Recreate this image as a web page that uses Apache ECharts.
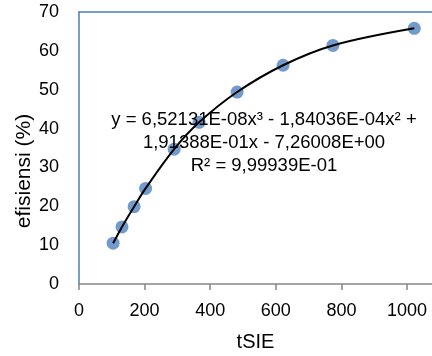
<!DOCTYPE html>
<html>
<head>
<meta charset="utf-8">
<script src="https://cdn.jsdelivr.net/npm/echarts@6/dist/echarts.min.js"></script>
<style>
  html, body { margin: 0; padding: 0; background: #fff; }
  #chart { width: 432px; height: 356px; }
</style>
</head>
<body>
<div id="chart"></div>
<script>
// tSIE vs efisiensi
const tsie = [104, 131, 168, 203, 290, 366, 482, 622, 774, 1022]
const efisiensi = [10.5, 14.7, 19.9, 24.6, 34.7, 41.6, 49.4, 56.3, 61.4, 65.8]
const trendLabel = [
  'y = 6,52131E-08x³ - 1,84036E-04x² +',
  '1,91388E-01x - 7,26008E+00',
  'R² = 9,99939E-01'
]

const points = tsie.map((x, i) => [x, efisiensi[i]])
const font = 'Liberation Sans'

const chart = echarts.init(document.getElementById('chart'))
chart.setOption({
  animation: false,
  textStyle: { fontFamily: font },
  grid: { left: 79, top: 12, right: 0, bottom: 72, outerBoundsMode: 'none' },
  xAxis: [
    {
      type: 'value',
      min: 0,
      max: 1076,
      interval: 200,
      name: 'tSIE',
      nameLocation: 'middle',
      nameGap: 48,
      nameTextStyle: { fontSize: 20, color: '#000', fontFamily: font },
      axisLine: { lineStyle: { color: '#868686', width: 1.5 } },
      axisTick: { show: true, length: 6, lineStyle: { color: '#868686', width: 1.5 } },
      axisLabel: {
        fontSize: 18, color: '#000', margin: 18, showMaxLabel: false,
        formatter: v => String(v)
      },
      splitLine: { show: false }
    },
    {
      // top border of the plot
      type: 'value',
      position: 'top',
      min: 0,
      max: 1076,
      axisLine: { show: true, lineStyle: { color: '#4a7ebb', width: 1.5 } },
      axisTick: { show: false },
      axisLabel: { show: false },
      splitLine: { show: false }
    }
  ],
  yAxis: {
    type: 'value',
    min: 0,
    max: 70,
    interval: 10,
    axisLine: { show: true, lineStyle: { color: '#4a7ebb', width: 1.5 } },
    axisTick: { show: false },
    axisLabel: { fontSize: 18, color: '#000', margin: 20 },
    splitLine: { show: false }
  },
  graphic: [
    {
      type: 'text',
      x: 24,
      y: 171,
      rotation: Math.PI / 2,
      style: {
        text: 'efisiensi (%)',
        font: '21px "' + font + '"',
        fill: '#000',
        align: 'center',
        verticalAlign: 'middle'
      }
    },
    {
      type: 'text',
      x: 264,
      y: 143,
      z: 10,
      style: {
        text: trendLabel.join('\n'),
        font: '18.5px "' + font + '"',
        lineHeight: 23,
        fill: '#000',
        align: 'center',
        verticalAlign: 'middle'
      }
    }
  ],
  series: [
    {
      type: 'scatter',
      data: points,
      symbolSize: 13,
      itemStyle: { color: '#4f81bd' },
      z: 2
    },
    {
      // polynomial trendline
      type: 'line',
      data: points,
      smooth: 0.35,
      showSymbol: false,
      lineStyle: { color: '#000', width: 2 },
      z: 3
    }
  ]
})
</script>
</body>
</html>
